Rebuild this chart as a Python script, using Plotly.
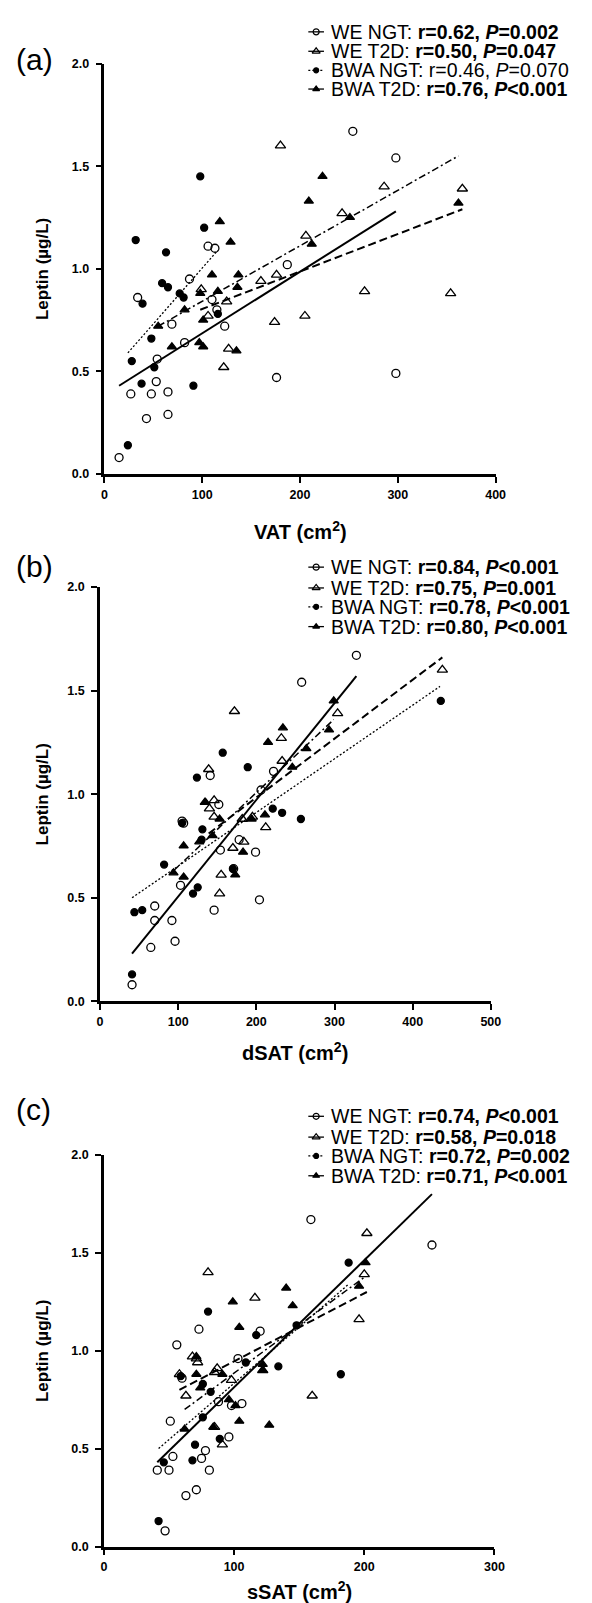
import plotly.graph_objects as go

# ---- data (cm2, ug/L) ----
# panel (a) VAT
vat_we_ngt_x = [254, 298, 106, 113, 187, 87, 34, 110, 69, 123, 82, 54, 53, 27, 48, 65, 43, 65, 15, 176, 298, 115]
vat_we_ngt_y = [1.67, 1.54, 1.11, 1.10, 1.02, 0.95, 0.86, 0.85, 0.73, 0.72, 0.64, 0.56, 0.45, 0.39, 0.39, 0.40, 0.27, 0.29, 0.08, 0.47, 0.49, 0.80]
vat_we_t2d_x = [180, 286, 243, 206, 176, 160, 99, 125, 266, 106, 174, 205, 127, 122, 354, 366]
vat_we_t2d_y = [1.60, 1.40, 1.27, 1.16, 0.97, 0.94, 0.90, 0.84, 0.89, 0.77, 0.74, 0.77, 0.61, 0.52, 0.88, 1.39]
vat_bwa_ngt_x = [98, 102, 32, 63, 59, 65, 77, 81, 39, 116, 48, 28, 51, 38, 91, 24]
vat_bwa_ngt_y = [1.45, 1.20, 1.14, 1.08, 0.93, 0.91, 0.88, 0.86, 0.83, 0.78, 0.66, 0.55, 0.52, 0.44, 0.43, 0.14]
vat_bwa_t2d_x = [223, 209, 118, 251, 129, 212, 110, 137, 136, 98, 116, 82, 55, 101, 69, 97, 101, 135, 362]
vat_bwa_t2d_y = [1.45, 1.33, 1.23, 1.25, 1.13, 1.12, 0.97, 0.97, 0.91, 0.88, 0.89, 0.80, 0.72, 0.75, 0.62, 0.64, 0.62, 0.60, 1.32]
vat_fits = {
    "we_ngt": ([15, 298], [0.43, 1.28]),
    "we_t2d": ([98, 366], [0.80, 1.29]),
    "bwa_ngt": ([24, 116], [0.59, 1.09]),
    "bwa_t2d": ([55, 362], [0.72, 1.55]),
}
vat_labels = [
    "WE NGT: <b>r=0.62, <i>P</i>=0.002</b>",
    "WE T2D: <b>r=0.50, <i>P</i>=0.047</b>",
    "BWA NGT: r=0.46, <i>P</i>=0.070",
    "BWA T2D: <b>r=0.76, <i>P</i><0.001</b>",
]

# panel (b) dSAT
dsat_we_ngt_x = [328, 258, 222, 206, 141, 152, 107, 178, 154, 199, 171, 103, 70, 70, 92, 146, 204, 65, 96, 41, 105]
dsat_we_ngt_y = [1.67, 1.54, 1.11, 1.02, 1.09, 0.95, 0.86, 0.78, 0.73, 0.72, 0.64, 0.56, 0.46, 0.39, 0.39, 0.44, 0.49, 0.26, 0.29, 0.08, 0.87]
dsat_we_t2d_x = [438, 172, 304, 232, 233, 139, 146, 140, 146, 182, 195, 212, 184, 170, 155, 153]
dsat_we_t2d_y = [1.60, 1.40, 1.39, 1.27, 1.16, 1.12, 0.97, 0.93, 0.89, 0.88, 0.89, 0.84, 0.77, 0.74, 0.61, 0.52]
dsat_bwa_ngt_x = [436, 157, 189, 124, 221, 233, 257, 131, 130, 105, 82, 125, 119, 44, 54, 41, 170]
dsat_bwa_ngt_y = [1.45, 1.20, 1.13, 1.08, 0.93, 0.91, 0.88, 0.83, 0.78, 0.86, 0.66, 0.55, 0.52, 0.43, 0.44, 0.13, 0.64]
dsat_bwa_t2d_x = [234, 215, 293, 134, 299, 264, 246, 135, 153, 144, 127, 107, 94, 107, 183, 173, 211, 194]
dsat_bwa_t2d_y = [1.32, 1.25, 1.31, 0.96, 1.45, 1.22, 1.13, 0.96, 0.88, 0.80, 0.77, 0.75, 0.62, 0.60, 0.72, 0.61, 0.90, 0.88]
dsat_fits = {
    "we_ngt": ([41, 328], [0.23, 1.57]),
    "we_t2d": ([139, 438], [0.81, 1.66]),
    "bwa_ngt": ([41, 435], [0.50, 1.52]),
    "bwa_t2d": ([94, 299], [0.63, 1.36]),
}
dsat_labels = [
    "WE NGT: <b>r=0.84, <i>P</i><0.001</b>",
    "WE T2D: <b>r=0.75, <i>P</i>=0.001</b>",
    "BWA NGT: <b>r=0.78, <i>P</i><0.001</b>",
    "BWA T2D: <b>r=0.80, <i>P</i><0.001</b>",
]

# panel (c) sSAT
ssat_we_ngt_x = [159, 252, 73, 120, 56, 103, 60, 88, 98, 106, 51, 96, 78, 53, 75, 41, 50, 81, 63, 71, 47]
ssat_we_ngt_y = [1.67, 1.54, 1.11, 1.10, 1.03, 0.96, 0.86, 0.74, 0.72, 0.73, 0.64, 0.56, 0.49, 0.46, 0.45, 0.39, 0.39, 0.39, 0.26, 0.29, 0.08]
ssat_we_t2d_x = [202, 200, 196, 80, 116, 68, 71, 72, 122, 160, 58, 85, 87, 98, 63, 85, 91]
ssat_we_t2d_y = [1.60, 1.39, 1.16, 1.40, 1.27, 0.97, 0.96, 0.94, 0.90, 0.77, 0.88, 0.89, 0.91, 0.85, 0.77, 0.61, 0.52]
ssat_bwa_ngt_x = [188, 80, 117, 148, 109, 134, 182, 59, 76, 82, 76, 89, 70, 46, 68, 42]
ssat_bwa_ngt_y = [1.45, 1.20, 1.08, 1.13, 0.94, 0.92, 0.88, 0.87, 0.83, 0.79, 0.66, 0.55, 0.52, 0.43, 0.44, 0.13]
ssat_bwa_t2d_x = [201, 196, 140, 99, 145, 104, 71, 122, 122, 71, 91, 74, 96, 101, 104, 127, 62, 84]
ssat_bwa_t2d_y = [1.45, 1.33, 1.32, 1.25, 1.23, 1.12, 0.97, 0.93, 0.90, 0.88, 0.88, 0.81, 0.75, 0.72, 0.64, 0.62, 0.60, 0.61]
ssat_fits = {
    "we_ngt": ([41, 252], [0.43, 1.80]),
    "we_t2d": ([58, 202], [0.80, 1.30]),
    "bwa_ngt": ([42, 188], [0.50, 1.34]),
    "bwa_t2d": ([62, 201], [0.70, 1.38]),
}
ssat_labels = [
    "WE NGT: <b>r=0.74, <i>P</i><0.001</b>",
    "WE T2D: <b>r=0.58, <i>P</i>=0.018</b>",
    "BWA NGT: <b>r=0.72, <i>P</i>=0.002</b>",
    "BWA T2D: <b>r=0.71, <i>P</i><0.001</b>",
]

# ---- styling ----
W, H = 592, 1603
FONT = "Liberation Sans, Arial, sans-serif"
STYLE = {
    "we_ngt": dict(symbol="circle-open", size=8, dash="solid", lw=2.0),
    "we_t2d": dict(symbol="triangle-up-open", size=9, dash="8px,4px", lw=2.0),
    "bwa_ngt": dict(symbol="circle", size=7, dash="2px,2px", lw=1.3),
    "bwa_t2d": dict(symbol="triangle-up", size=8, dash="7px,3px,2px,3px", lw=1.5),
}

# pixel boxes of the three plot areas: x0, x1, ytop, ybottom
panels = [
    dict(key="a", box=(95.5, 495.5, 49, 463), xmax=400, xtitle="VAT (cm<sup>2</sup>)", xt_y=520,
         leg_y=[17, 36.6, 55.8, 74.7], lab_y=45,
         data={"we_ngt": (vat_we_ngt_x, vat_we_ngt_y), "we_t2d": (vat_we_t2d_x, vat_we_t2d_y),
               "bwa_ngt": (vat_bwa_ngt_x, vat_bwa_ngt_y), "bwa_t2d": (vat_bwa_t2d_x, vat_bwa_t2d_y)},
         fits=vat_fits, labels=vat_labels),
    dict(key="b", box=(91, 490.6, 577, 995), xmax=500, xtitle="dSAT (cm<sup>2</sup>)", xt_y=1046,
         leg_y=[557, 578, 597, 617], lab_y=556,
         data={"we_ngt": (dsat_we_ngt_x, dsat_we_ngt_y), "we_t2d": (dsat_we_t2d_x, dsat_we_t2d_y),
               "bwa_ngt": (dsat_bwa_ngt_x, dsat_bwa_ngt_y), "bwa_t2d": (dsat_bwa_t2d_x, dsat_bwa_t2d_y)},
         fits=dsat_fits, labels=dsat_labels),
    dict(key="c", box=(95, 494.3, 1150, 1545), xmax=300, xtitle="sSAT (cm<sup>2</sup>)", xt_y=1589,
         leg_y=[1111, 1132, 1151, 1171], lab_y=1104,
         data={"we_ngt": (ssat_we_ngt_x, ssat_we_ngt_y), "we_t2d": (ssat_we_t2d_x, ssat_we_t2d_y),
               "bwa_ngt": (ssat_bwa_ngt_x, ssat_bwa_ngt_y), "bwa_t2d": (ssat_bwa_t2d_x, ssat_bwa_t2d_y)},
         fits=ssat_fits, labels=ssat_labels),
]

fig = go.Figure()
layout = {}
annotations = []

for i, p in enumerate(panels):
    n = "" if i == 0 else str(i + 1)
    x0, x1, yt, yb = p["box"]
    layout["xaxis" + n] = dict(
        domain=[x0 / W, x1 / W], anchor="y" + n, range=[0, p["xmax"]],
        tickvals=list(range(0, p["xmax"] + 1, 100)),
        showline=True, linewidth=2.5, linecolor="black", ticks="outside", ticklen=6,
        tickwidth=2, tickcolor="black", showgrid=False, zeroline=False, ticklabelstandoff=1,
        tickfont=dict(family=FONT, size=12.5, color="black", weight="bold"))
    layout["yaxis" + n] = dict(
        domain=[1 - yb / H, 1 - yt / H], anchor="x" + n, range=[0, 2],
        tickvals=[0, 0.5, 1, 1.5, 2], tickformat=".1f",
        showline=True, linewidth=2.5, linecolor="black", ticks="outside", ticklen=6,
        tickwidth=2, tickcolor="black", showgrid=False, zeroline=False, ticklabelstandoff=4,
        tickfont=dict(family=FONT, size=12.5, color="black", weight="bold"))

    for k in ["we_ngt", "we_t2d", "bwa_ngt", "bwa_t2d"]:
        s = STYLE[k]
        fx, fy = p["fits"][k]
        fig.add_trace(go.Scatter(x=fx, y=fy, mode="lines", xaxis="x" + n, yaxis="y" + n,
                                 line=dict(color="black", width=s["lw"], dash=s["dash"]),
                                 showlegend=False, hoverinfo="skip"))
        xs, ys = p["data"][k]
        fig.add_trace(go.Scatter(x=xs, y=ys, mode="markers", xaxis="x" + n, yaxis="y" + n,
                                 marker=dict(symbol=s["symbol"], size=s["size"], color="black",
                                             line=dict(color="black", width=1.3)),
                                 cliponaxis=False, showlegend=False))

    # legend keys and text
    for j, k in enumerate(["we_ngt", "we_t2d", "bwa_ngt", "bwa_t2d"]):
        s = STYLE[k]
        ly = p["leg_y"][j]
        fig.add_trace(go.Scatter(x=[304, 320], y=[ly, ly], mode="lines", xaxis="x4", yaxis="y4",
                                 line=dict(color="black", width=1.3,
                                           dash="solid" if k != "bwa_ngt" else "2px,2px"),
                                 showlegend=False, hoverinfo="skip"))
        fig.add_trace(go.Scatter(x=[312], y=[ly], mode="markers", xaxis="x4", yaxis="y4",
                                 marker=dict(symbol=s["symbol"], size=s["size"] - 2, color="black",
                                             line=dict(color="black", width=1.2)),
                                 showlegend=False, hoverinfo="skip"))
        annotations.append(dict(x=325, y=ly, xref="x4", yref="y4", text=p["labels"][j],
                                showarrow=False, xanchor="left", yanchor="middle",
                                font=dict(family=FONT, size=19.5, color="black")))

    annotations.append(dict(x=3, y=p["lab_y"], xref="x4", yref="y4", text="(" + p["key"] + ")",
                            showarrow=False, xanchor="left", yanchor="middle",
                            font=dict(family=FONT, size=30, color="black")))
    annotations.append(dict(x=(x0 + x1) / 2, y=p["xt_y"], xref="x4", yref="y4", text=p["xtitle"],
                            showarrow=False, xanchor="center", yanchor="middle",
                            font=dict(family=FONT, size=20, color="black", weight="bold")))
    annotations.append(dict(x=32, y=(yt + yb) / 2, xref="x4", yref="y4", text="Leptin (µg/L)",
                            showarrow=False, textangle=-90, xanchor="center", yanchor="middle",
                            font=dict(family=FONT, size=17, color="black", weight="bold")))

layout["xaxis4"] = dict(domain=[0, 1], range=[0, W], visible=False, anchor="y4")
layout["yaxis4"] = dict(domain=[0, 1], range=[H, 0], visible=False, anchor="x4")

fig.update_layout(**layout)
fig.update_layout(
    width=W, height=H,
    margin=dict(l=0, r=0, t=0, b=0),
    paper_bgcolor="white", plot_bgcolor="rgba(0,0,0,0)",
    showlegend=False,
    annotations=annotations,
)

fig.write_html("out.html")
